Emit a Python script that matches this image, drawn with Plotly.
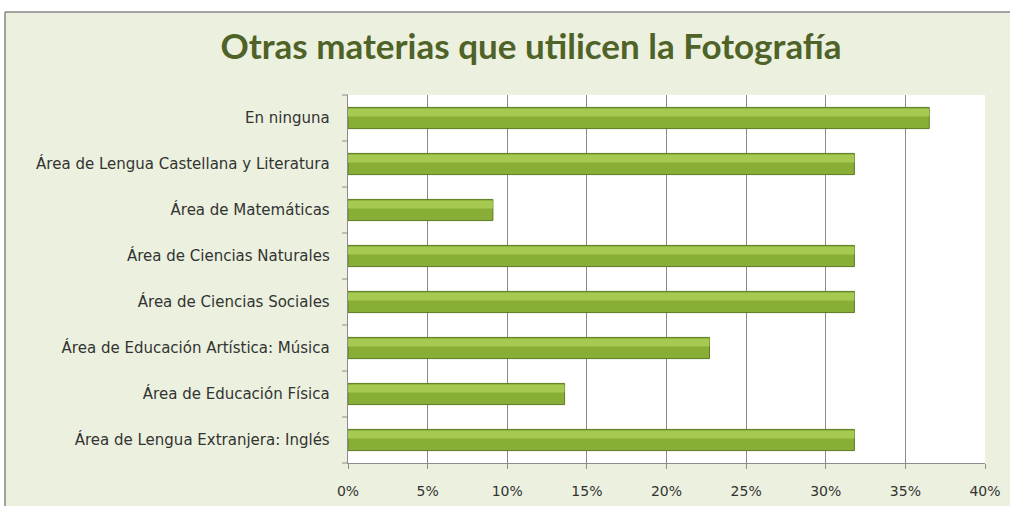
import plotly.graph_objects as go

categories = [
    "En ninguna",
    "Área de Lengua Castellana y Literatura",
    "Área de Matemáticas",
    "Área de Ciencias Naturales",
    "Área de Ciencias Sociales",
    "Área de Educación Artística: Música",
    "Área de Educación Física",
    "Área de Lengua Extranjera: Inglés",
]
percent = [36.5, 31.8, 9.1, 31.8, 31.8, 22.7, 13.6, 31.8]
x_ticks = [0, 5, 10, 15, 20, 25, 30, 35, 40]
x_tick_labels = [f"{t}%" for t in x_ticks]

W, H = 1010, 506
L, R, T, B = 348, 25, 95, 43


def px_x(p):
    return (p - L) / (W - L - R)


def px_y(p):
    return 1 - (p - T) / (H - T - B)


fig = go.Figure()
# main bar body
fig.add_trace(go.Bar(
    y=categories, x=percent, orientation="h", width=0.46,
    marker=dict(color="#88AE38", line=dict(color="#5E7A22", width=1)),
    hoverinfo="x+y",
))
# lighter upper half for the bevel look
fig.add_trace(go.Bar(
    y=categories, x=percent, orientation="h", width=0.17, offset=-0.2,
    marker=dict(color="#A6C952", line=dict(width=0)),
    hoverinfo="skip",
))

fig.update_layout(
    width=W, height=H,
    margin=dict(l=L, r=R, t=T, b=B),
    barmode="overlay",
    showlegend=False,
    paper_bgcolor="#EBF1DE",
    plot_bgcolor="white",
    font=dict(family="DejaVu Sans", size=13, color="#333333"),
    title=dict(
        text="<b>Otras materias que utilicen la Fotografía</b>",
        xref="container", x=531 / W, xanchor="center", y=1 - 47 / H, yanchor="middle",
        font=dict(family="Lato", size=35, color="#4F6228"),
    ),
    xaxis=dict(
        range=[0, 40], tickvals=x_ticks, ticktext=x_tick_labels,
        showgrid=True, gridcolor="#8C8C8C", gridwidth=1,
        showline=True, linecolor="#8C8C8C", ticks="outside", ticklen=5,
        tickcolor="#8C8C8C", zeroline=False, fixedrange=True,
        ticklabelstandoff=10, automargin=False,
        tickfont=dict(size=14, color="#333333"),
    ),
    yaxis=dict(
        autorange="reversed", showline=True, linecolor="#8C8C8C",
        ticks="", showgrid=False, ticksuffix="   ", automargin=False,
        tickfont=dict(size=15, color="#333333"), fixedrange=True,
    ),
    shapes=[
        dict(type="rect", xref="paper", yref="paper", x0=px_x(0), x1=px_x(W),
             y0=px_y(12), y1=px_y(0), fillcolor="white", line=dict(width=0)),
        dict(type="rect", xref="paper", yref="paper", x0=px_x(0), x1=px_x(5),
             y0=px_y(H), y1=px_y(0), fillcolor="white", line=dict(width=0)),
        dict(type="line", xref="paper", yref="paper", x0=px_x(5), x1=px_x(W),
             y0=px_y(12), y1=px_y(12), line=dict(color="#868686", width=1.5)),
        dict(type="line", xref="paper", yref="paper", x0=px_x(5), x1=px_x(5),
             y0=px_y(12), y1=px_y(H), line=dict(color="#868686", width=1.5)),
    ] + [
        # small ticks on the category axis at the boundaries between bars
        dict(type="line", xref="paper", yref="paper", x0=px_x(L - 6), x1=0,
             y0=i / len(categories), y1=i / len(categories),
             line=dict(color="#8C8C8C", width=1))
        for i in range(len(categories) + 1)
    ],
)

fig.write_html("out.html", config={"displayModeBar": False},
               post_script="document.body.style.margin='0';")
